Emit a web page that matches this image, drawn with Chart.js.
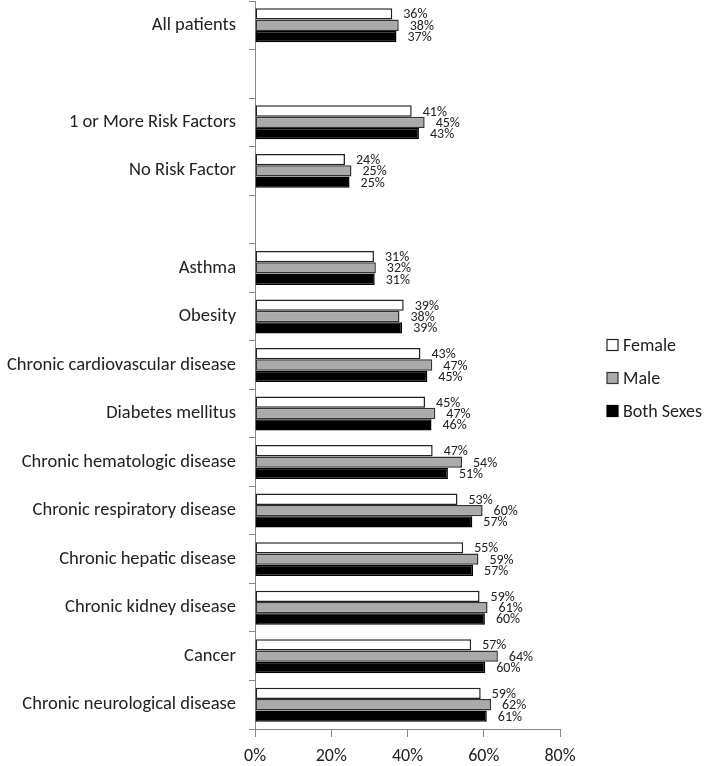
<!DOCTYPE html>
<html>
<head>
<meta charset="utf-8">
<script src="https://cdn.jsdelivr.net/npm/chart.js@4/dist/chart.umd.min.js"></script>
<style>
  body { margin: 0; background: #fff; }
</style>
</head>
<body>
<canvas id="myCanvas" width="709" height="766"></canvas>
<script>
const categories = [
  "All patients",
  "",
  "1 or More Risk Factors",
  "No Risk Factor",
  "",
  "Asthma",
  "Obesity",
  "Chronic cardiovascular disease",
  "Diabetes mellitus",
  "Chronic hematologic disease",
  "Chronic respiratory disease",
  "Chronic hepatic disease",
  "Chronic kidney disease",
  "Cancer",
  "Chronic neurological disease",
];
const female = [36.0, null, 41.1, 23.6, null, 31.2, 39.0, 43.4, 44.6, 46.6, 53.1, 54.6, 58.9, 56.7, 59.2];
const male = [37.7, null, 44.5, 25.3, null, 31.7, 37.9, 46.5, 47.3, 54.3, 59.7, 58.6, 61.0, 63.7, 61.9];
const both = [37.1, null, 43.0, 24.8, null, 31.4, 38.6, 45.2, 46.3, 50.6, 57.0, 57.2, 60.3, 60.4, 60.8];
const xTicks = [0, 20, 40, 60, 80];

const FONT = "Carlito, Lato, sans-serif";

// value labels next to each bar
const barLabels = {
  id: "barLabels",
  afterDatasetsDraw(chart) {
    const ctx = chart.ctx;
    ctx.save();
    ctx.font = "14px " + FONT;
    ctx.fillStyle = "#222";
    ctx.textAlign = "left";
    ctx.textBaseline = "middle";
    chart.data.datasets.forEach((ds, i) => {
      chart.getDatasetMeta(i).data.forEach((bar, j) => {
        const v = ds.data[j];
        if (v == null) return;
        ctx.fillText(Math.round(v) + "%", bar.x + 11, bar.y + 1);
      });
    });
    ctx.restore();
  },
};

// legend drawn to the right of the plot
const sideLegend = {
  id: "sideLegend",
  afterDraw(chart) {
    const ctx = chart.ctx;
    ctx.save();
    ctx.font = "18px " + FONT;
    ctx.textBaseline = "middle";
    chart.data.datasets.forEach((ds, i) => {
      const y = 345 + i * 33;
      ctx.fillStyle = ds.backgroundColor;
      ctx.fillRect(607, y - 5.5, 11, 11);
      ctx.strokeStyle = ds.borderColor;
      ctx.lineWidth = 1.2;
      ctx.strokeRect(607, y - 5.5, 11, 11);
      ctx.fillStyle = "#222";
      ctx.fillText(ds.label, 623, y + 1);
    });
    ctx.restore();
  },
};

const data = {
  labels: categories,
  datasets: [
    { label: "Female", data: female, backgroundColor: "#ffffff", borderColor: "#222222" },
    { label: "Male", data: male, backgroundColor: "#aaaaaa", borderColor: "#333333" },
    { label: "Both Sexes", data: both, backgroundColor: "#000000", borderColor: "#000000" },
  ],
};

new Chart(document.getElementById("myCanvas"), {
  type: "bar",
  data,
  plugins: [barLabels, sideLegend],
  options: {
    responsive: false,
    animation: false,
    indexAxis: "y",
    datasets: {
      bar: {
        borderWidth: 1.5,
        borderSkipped: false,
        categoryPercentage: 0.7,
        barPercentage: 1.0,
      },
    },
    layout: { padding: { top: 1, right: 149, bottom: 0, left: 0 } },
    plugins: {
      legend: { display: false },
      tooltip: { enabled: false },
    },
    scales: {
      x: {
        min: 0,
        max: 80,
        afterBuildTicks(scale) {
          scale.ticks = xTicks.map((v) => ({ value: v }));
        },
        afterFit(scale) {
          scale.height = 37;
        },
        grid: { drawOnChartArea: false, tickLength: 8, color: "#888" },
        border: { color: "#888" },
        ticks: {
          padding: 9,
          color: "#222",
          font: { family: FONT, size: 18 },
          callback: (v) => v + "%",
        },
      },
      y: {
        afterFit(scale) {
          scale.width = 255;
          scale.paddingTop = 0;
          scale.paddingBottom = 0;
        },
        grid: { drawOnChartArea: false, tickLength: 6, color: "#888", offset: true },
        border: { color: "#888" },
        ticks: {
          padding: 13,
          color: "#222",
          autoSkip: false,
          font: { family: FONT, size: 18.5 },
        },
      },
    },
  },
});
</script>
</body>
</html>
